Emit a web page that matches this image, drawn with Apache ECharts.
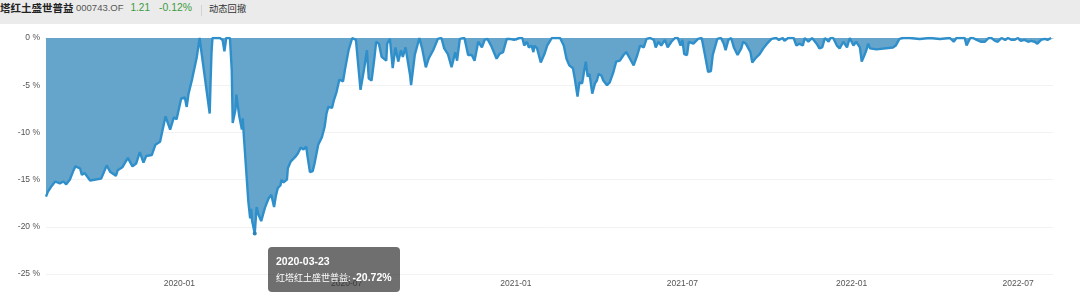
<!DOCTYPE html>
<html><head><meta charset="utf-8">
<script src="https://cdn.jsdelivr.net/npm/echarts@6/dist/echarts.min.js"></script>
<style>
html,body{margin:0;padding:0;background:#fff;width:1080px;height:305px;overflow:hidden;}
#chart{position:absolute;left:0;top:0;width:1080px;height:305px;}
#hdr{position:absolute;left:0;top:0;width:1080px;height:24px;background:#ebebeb;overflow:hidden;z-index:5;font-family:"Liberation Sans","Noto Sans CJK SC",sans-serif;}
#hdr span{position:absolute;top:0px;line-height:16px;white-space:nowrap;}
</style></head><body>
<div id="chart"></div>
<div id="hdr">
<span style="left:0px;font-size:10.5px;font-weight:bold;color:#222;font-family:'Noto Sans CJK SC'">塔红土盛世普益</span>
<span style="left:76px;font-size:9.5px;color:#555">000743.OF</span>
<span style="left:130.5px;font-size:10px;color:#3d9b3d">1.21</span>
<span style="left:159px;font-size:10.4px;color:#3d9b3d">-0.12%</span>
<span style="left:201px;top:5px;width:1px;height:11px;background:#d3d3d3"></span>
<span style="left:209px;font-size:9.3px;color:#333;font-family:'Noto Sans CJK SC'">动态回撤</span>
</div>
<script>
const seriesName = '红塔红土盛世普益';
const xTickLabels = ['2020-01','2020-07','2021-01','2021-07','2022-01','2022-07'];
const yTickValues = [0,-5,-10,-15,-20,-25];
const dates = [
'2019-08-09','2019-08-11','2019-08-15','2019-08-19','2019-08-24','2019-08-28','2019-08-31','2019-09-04','2019-09-08','2019-09-10',
'2019-09-15','2019-09-17','2019-09-20','2019-09-26','2019-10-08','2019-10-14','2019-10-18','2019-10-24','2019-10-26','2019-10-31',
'2019-11-06','2019-11-11','2019-11-15','2019-11-19','2019-11-23','2019-11-26','2019-12-02','2019-12-06','2019-12-11','2019-12-17',
'2019-12-22','2019-12-26','2019-12-29','2020-01-03','2020-01-07','2020-01-09','2020-01-11','2020-01-15','2020-01-17','2020-01-20',
'2020-01-23','2020-02-03','2020-02-04','2020-02-05','2020-02-06','2020-02-10','2020-02-14','2020-02-17','2020-02-19','2020-02-21',
'2020-02-25','2020-02-27','2020-02-28','2020-03-02','2020-03-03','2020-03-05','2020-03-06','2020-03-09','2020-03-10','2020-03-11',
'2020-03-16','2020-03-18','2020-03-19','2020-03-20','2020-03-23','2020-03-25','2020-03-27','2020-03-30','2020-04-03','2020-04-07',
'2020-04-10','2020-04-13','2020-04-15','2020-04-17','2020-04-20','2020-04-21','2020-04-23','2020-04-27','2020-04-28','2020-05-01',
'2020-05-06','2020-05-09','2020-05-12','2020-05-15','2020-05-18','2020-05-19','2020-05-22','2020-05-25','2020-05-27','2020-05-29',
'2020-05-31','2020-06-04','2020-06-07','2020-06-09','2020-06-11','2020-06-15','2020-06-17','2020-06-20','2020-06-23','2020-06-27',
'2020-06-29','2020-07-03','2020-07-07','2020-07-11','2020-07-13','2020-07-16','2020-07-20','2020-07-23','2020-07-25','2020-07-28',
'2020-07-31','2020-08-02','2020-08-05','2020-08-08','2020-08-10','2020-08-13','2020-08-14','2020-08-17','2020-08-20','2020-08-23',
'2020-08-26','2020-08-29','2020-08-31','2020-09-03','2020-09-08','2020-09-09','2020-09-13','2020-09-18','2020-09-21','2020-09-25',
'2020-09-28','2020-10-03','2020-10-08','2020-10-12','2020-10-15','2020-10-19','2020-10-23','2020-10-27','2020-10-29','2020-11-01',
'2020-11-06','2020-11-10','2020-11-14','2020-11-17','2020-11-21','2020-11-25','2020-11-28','2020-12-01','2020-12-05','2020-12-11',
'2020-12-14','2020-12-18','2020-12-22','2020-12-25','2020-12-30','2021-01-05','2021-01-08','2021-01-10','2021-01-13','2021-01-15',
'2021-01-18','2021-01-20','2021-01-21','2021-01-24','2021-01-28','2021-02-01','2021-02-04','2021-02-09','2021-02-18','2021-02-22',
'2021-02-25','2021-02-28','2021-03-02','2021-03-04','2021-03-06','2021-03-09','2021-03-11','2021-03-14','2021-03-16','2021-03-18',
'2021-03-20','2021-03-22','2021-03-25','2021-03-28','2021-03-30','2021-04-01','2021-04-04','2021-04-06','2021-04-10','2021-04-13',
'2021-04-17','2021-04-20','2021-04-24','2021-04-28','2021-05-01','2021-05-05','2021-05-09','2021-05-13','2021-05-16','2021-05-20',
'2021-05-23','2021-05-27','2021-05-31','2021-06-02','2021-06-05','2021-06-08','2021-06-12','2021-06-15','2021-06-19','2021-06-23',
'2021-06-26','2021-06-29','2021-07-01','2021-07-03','2021-07-06','2021-07-08','2021-07-13','2021-07-18','2021-07-22','2021-07-25',
'2021-07-29','2021-08-01','2021-08-03','2021-08-08','2021-08-12','2021-08-15','2021-08-17','2021-08-20','2021-08-23','2021-08-26',
'2021-08-28','2021-08-30','2021-09-01','2021-09-03','2021-09-05','2021-09-08','2021-09-10','2021-09-13','2021-09-15','2021-09-18',
'2021-09-20','2021-09-23','2021-09-27','2021-10-01','2021-10-06','2021-10-11','2021-10-14','2021-10-18','2021-10-20','2021-10-24',
'2021-10-27','2021-10-30','2021-11-02','2021-11-05','2021-11-09','2021-11-11','2021-11-15','2021-11-19','2021-11-21','2021-11-24',
'2021-11-27','2021-11-30','2021-12-03','2021-12-07','2021-12-09','2021-12-12','2021-12-16','2021-12-19','2021-12-23','2021-12-27',
'2021-12-30','2022-01-03','2022-01-06','2022-01-10','2022-01-12','2022-01-15','2022-01-17','2022-01-19','2022-01-21','2022-01-28',
'2022-02-15','2022-02-18','2022-02-22','2022-02-26','2022-03-05','2022-03-16','2022-03-27','2022-04-07','2022-04-18','2022-04-22',
'2022-04-25','2022-05-04','2022-05-06','2022-05-08','2022-05-10','2022-05-13','2022-05-17','2022-05-22','2022-05-26','2022-05-30',
'2022-06-02','2022-06-06','2022-06-09','2022-06-13','2022-06-17','2022-06-20','2022-06-24','2022-06-27','2022-07-01','2022-07-04',
'2022-07-08','2022-07-12','2022-07-15','2022-07-19','2022-07-22','2022-07-26','2022-07-30','2022-08-02','2022-08-06','2022-08-08'
];
const drawdown = [
-16.8,-16.3,-15.7,-15.2,-15.4,-15.2,-15.5,-15.0,-14.0,-13.6,
-13.8,-14.5,-14.3,-15.1,-14.9,-13.5,-14.2,-14.6,-14.0,-13.7,
-12.7,-13.6,-13.3,-12.1,-13.2,-12.5,-12.4,-11.3,-11.0,-8.3,
-9.7,-8.4,-8.6,-6.4,-6.3,-7.3,-5.9,-4.3,-4.1,-2.0,
0,-8.0,-4.5,-1.5,0,0,0,-0.2,-1.4,0,
0,-3.4,-9.0,-7.6,-6.0,-5.9,-8.2,-9.7,-8.5,-10.2,
-17.3,-19.1,-18.1,-19.3,-20.72,-17.9,-18.7,-19.4,-18.0,-17.0,
-16.6,-17.9,-16.7,-15.9,-15.6,-15.0,-15.3,-15.0,-13.8,-13.1,
-12.6,-12.2,-11.6,-11.8,-11.5,-12.3,-14.2,-14.1,-13.3,-13.4,
-11.3,-10.5,-9.4,-8.0,-7.3,-7.4,-6.6,-5.7,-4.4,-4.6,
-3.4,-1.3,0,-0.2,0,-5.5,-3.2,-1.3,-4.3,-4.5,
-2.2,-0.4,-0.6,-2.0,-1.9,-2.4,-0.6,-0.1,-3.2,-1.0,
-2.5,-1.3,-2.0,-1.0,-4.0,-5.0,-1.8,0,-1.1,-3.1,
-2.2,-1.3,-0.1,0,-1.1,-1.7,-3.1,-1.5,-2.4,-0.1,
0,-1.8,-1.8,-2.4,-0.4,-1.0,-0.2,-0.1,-0.8,-2.2,
-1.7,-1.5,-0.1,-0.1,-0.2,0,0,-0.8,-0.4,-1.0,
-0.8,-1.5,-0.8,-1.1,-2.6,-1.7,-0.8,0,0,-0.8,
-2.2,-2.9,-2.7,-3.2,-4.3,-6.2,-4.7,-4.8,-3.6,-2.5,
-4.1,-3.8,-5.9,-4.8,-4.5,-3.8,-4.0,-4.5,-5.0,-4.7,
-3.6,-2.5,-2.4,-1.8,-1.5,-2.2,-2.9,-1.8,-0.8,-1.0,
-0.1,0,-0.2,-1.0,-0.4,-0.8,-0.2,-1.0,-0.4,0,
0,-0.8,-0.2,-1.7,-1.8,-0.4,-0.6,-0.1,0,-1.5,
-3.6,-3.5,-1.8,-0.1,0,-0.6,-1.3,-0.2,0,-1.0,
-0.8,-1.8,-1.9,-1.1,-0.4,-0.6,-0.8,-1.5,-2.6,-2.2,
-2.1,-1.7,-1.1,-0.6,-0.1,0,-0.2,0,-0.3,0,
0,0,-0.8,-0.6,-0.8,0,-0.4,0,0,-0.6,
-1.1,-1.0,0,-0.4,0,0,-0.8,-1.1,-0.4,-1.0,
0,-0.8,-0.4,-1.0,-2.5,-1.8,-1.3,-0.6,-1.1,-1.2,
-1.0,-0.8,-0.1,0,0,-0.1,0,-0.1,0,-0.4,
0,0,-0.8,-1.0,0,0,-0.2,-0.4,-0.4,0,
0,-0.3,-0.4,0,-0.2,0,-0.2,-0.2,0,-0.3,
-0.2,-0.4,-0.3,-0.4,-0.6,-0.2,-0.1,-0.2,0,-0.1
];

function ts(s){const p=s.split('-');return new Date(+p[0],+p[1]-1,+(p[2]||1)).getTime();}
function pad(n){return (n<10?'0':'')+n;}
const tickTs = xTickLabels.map(ts);
const seriesData = dates.map((d,i)=>[ts(d), drawdown[i]]);
let minIdx = 0;
drawdown.forEach((v,i)=>{ if(v<drawdown[minIdx]) minIdx=i; });

const FONT = '"Liberation Sans","Noto Sans CJK SC",sans-serif';
const chart = echarts.init(document.getElementById('chart'));
chart.setOption({
  animation:false,
  textStyle:{fontFamily:FONT},
  grid:{left:46,right:27,top:38,bottom:31,containLabel:false},
  xAxis:{
    type:'value',
    min:ts(dates[0]), max:ts(dates[dates.length-1]),
    axisLine:{show:true,lineStyle:{color:'#cccccc',width:1}},
    axisTick:{show:true,customValues:tickTs,length:3,lineStyle:{color:'#cccccc'}},
    axisLabel:{customValues:tickTs,color:'#555',fontSize:8.5,fontFamily:FONT,margin:5,
      formatter:function(v){const d=new Date(v);return d.getFullYear()+'-'+pad(d.getMonth()+1);}},
    splitLine:{show:false}
  },
  yAxis:{
    type:'value',min:yTickValues[yTickValues.length-1],max:yTickValues[0],interval:5,
    axisLine:{show:false},axisTick:{show:false},
    axisLabel:{formatter:'{value} %',color:'#555',fontSize:8.5,fontFamily:FONT,margin:6},
    splitLine:{show:true,lineStyle:{color:'#f2f2f2',width:1}}
  },
  tooltip:{
    trigger:'axis',triggerOn:'none',alwaysShowContent:true,
    position:[268,247],
    axisPointer:{type:'none'},
    backgroundColor:'rgba(50,50,50,0.7)',borderWidth:0,padding:[7,8],
    textStyle:{color:'#fff',fontFamily:FONT},
    extraCssText:'box-shadow:none;border-radius:4px;',
    transitionDuration:0,
    formatter:function(params){
      const p = Array.isArray(params)?params[0]:params;
      const i = p.dataIndex;
      return '<div style="line-height:14.5px;font-size:10.5px;font-weight:bold;font-family:Liberation Sans,sans-serif;color:#fff">'+dates[i]+'</div>'+
        '<div style="line-height:14.5px;white-space:nowrap;color:#fff"><span style="font-size:9px;font-family:Noto Sans CJK SC,sans-serif">'+seriesName+': </span>'+
        '<span style="font-size:10.5px;font-weight:bold;font-family:Liberation Sans,sans-serif">'+drawdown[i].toFixed(2)+'%</span></div>';
    }
  },
  series:[{
    name:seriesName,type:'line',data:seriesData,
    showSymbol:false,symbol:'circle',symbolSize:4,
    lineStyle:{width:2.4,color:'#2b82b8'},
    itemStyle:{color:'#2b82b8'},
    areaStyle:{color:'#65a5cb',opacity:1},
    emphasis:{scale:false,lineStyle:{width:2.4},areaStyle:{color:'#65a5cb'}}
  }]
});
setTimeout(function(){
  chart.dispatchAction({type:'highlight',seriesIndex:0,dataIndex:minIdx});
  chart.dispatchAction({type:'showTip',seriesIndex:0,dataIndex:minIdx});
},50);
</script>
</body></html>
